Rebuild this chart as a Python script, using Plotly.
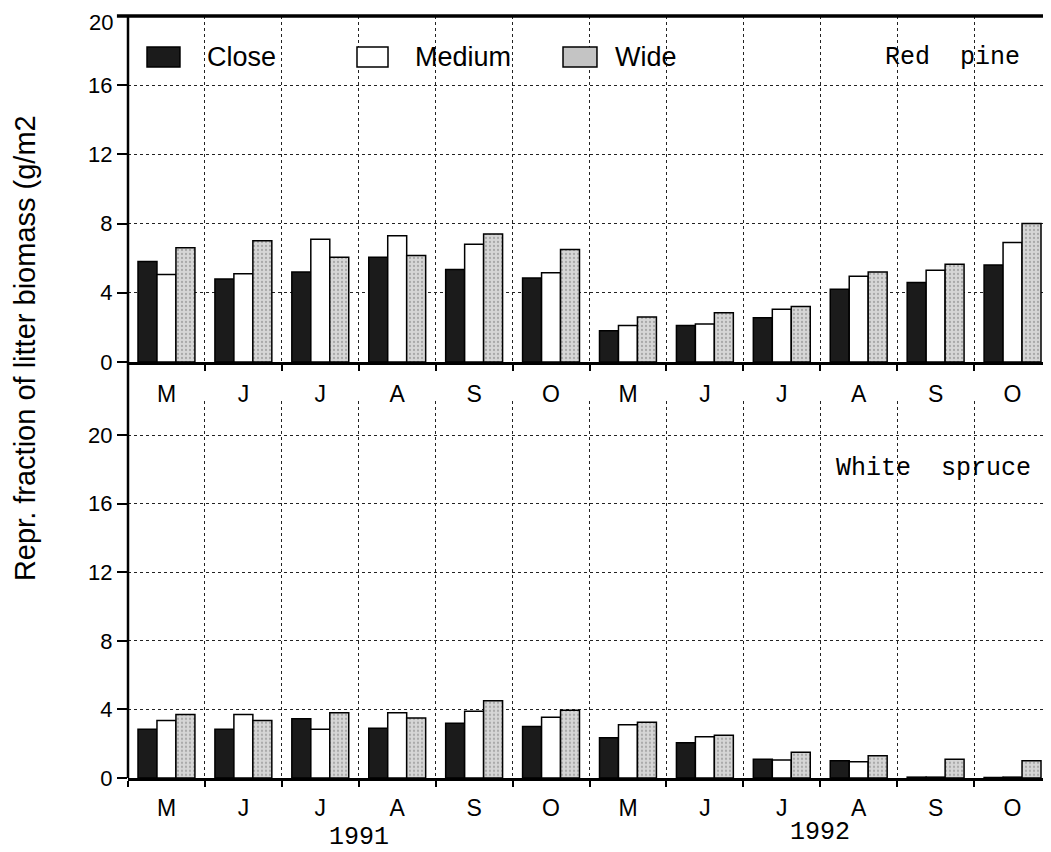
import plotly.graph_objects as go

months = ["M", "J", "J", "A", "S", "O", "M", "J", "J", "A", "S", "O"]
years = ["1991", "1992"]
y_ticks = [0, 4, 8, 12, 16, 20]

# Red pine (top panel)
rp_close = [5.8, 4.8, 5.2, 6.05, 5.35, 4.85, 1.8, 2.1, 2.55, 4.2, 4.6, 5.6]
rp_medium = [5.05, 5.1, 7.1, 7.3, 6.8, 5.15, 2.1, 2.2, 3.05, 4.95, 5.3, 6.9]
rp_wide = [6.6, 7.0, 6.05, 6.15, 7.4, 6.5, 2.6, 2.85, 3.2, 5.2, 5.65, 8.0]

# White spruce (bottom panel)
ws_close = [2.85, 2.85, 3.45, 2.9, 3.2, 3.0, 2.35, 2.05, 1.1, 1.0, 0.05, 0.03]
ws_medium = [3.35, 3.7, 2.85, 3.8, 3.9, 3.55, 3.1, 2.4, 1.05, 0.95, 0.05, 0.05]
ws_wide = [3.7, 3.35, 3.8, 3.5, 4.5, 3.95, 3.25, 2.5, 1.5, 1.3, 1.1, 1.0]

series_names = ["Close", "Medium", "Wide"]

SANS = "Liberation Sans, Arial, sans-serif"
MONO = "Courier New, Liberation Mono, monospace"

x = list(range(len(months)))

styles = {
    "Close": dict(color="#1b1b1b", line=dict(color="black", width=1.5)),
    "Medium": dict(color="white", line=dict(color="black", width=1.5)),
    "Wide": dict(color="#cfcfcf", line=dict(color="black", width=1.5),
                 pattern=dict(shape=".", fgcolor="#7a7a7a", bgcolor="#d6d6d6",
                              size=4, solidity=0.25)),
}

fig = go.Figure()
for name, vals in zip(series_names, [rp_close, rp_medium, rp_wide]):
    fig.add_trace(go.Bar(x=x, y=vals, name=name, marker=styles[name],
                         xaxis="x", yaxis="y", showlegend=False))
for name, vals in zip(series_names, [ws_close, ws_medium, ws_wide]):
    fig.add_trace(go.Bar(x=x, y=vals, name=name, marker=styles[name],
                         xaxis="x2", yaxis="y2", showlegend=False))

boundaries = [i - 0.5 for i in range(len(months) + 1)]

def xaxis_cfg(anchor, ticklen):
    return dict(
        anchor=anchor, domain=[0, 1], range=[-0.5, 11.5], automargin=False,
        tickmode="array", tickvals=x, ticktext=months,
        ticks="outside", ticklen=ticklen, tickcolor="rgba(0,0,0,0)",
        showgrid=False, zeroline=False,
        showline=True, linecolor="black", linewidth=2.5,
        tickfont=dict(family=SANS, size=23, color="black"),
        minor=dict(tickmode="array", tickvals=boundaries, ticks="outside",
                   ticklen=6, tickcolor="black", tickwidth=1.5,
                   showgrid=True, griddash="dot", gridcolor="#222222",
                   gridwidth=1),
    )

def yaxis_cfg(anchor, domain, rng, labels):
    return dict(
        anchor=anchor, domain=domain, range=rng, automargin=False,
        tickmode="array", tickvals=y_ticks, ticktext=labels,
        ticks="outside", ticklen=10, tickcolor="black", tickwidth=1.5,
        showgrid=True, griddash="dot", gridcolor="#222222", gridwidth=1,
        zeroline=False, showline=False,
        tickfont=dict(family=SANS, size=22, color="black"),
    )

all_labels = [str(v) for v in y_ticks]
# top label of the upper panel is drawn as an annotation so it stays inside the page
top_labels = all_labels[:-1] + [""]

# the page adds an 8px body margin, so the figure is 8px smaller
fig.update_layout(
    width=1043, height=844,
    margin=dict(l=120, r=0, t=8, b=74, autoexpand=False),
    paper_bgcolor="white", plot_bgcolor="white",
    barmode="group", bargap=0.26, bargroupgap=0,
    xaxis=xaxis_cfg("y", 10),
    yaxis=yaxis_cfg("x", [0.546, 1.0], [0, 20], top_labels),
    xaxis2=xaxis_cfg("y2", 8),
    yaxis2=yaxis_cfg("x2", [0.0, 0.495], [0, 22], all_labels),
)

shapes = [
    dict(type="line", xref="paper", yref="paper", x0=0, x1=0, y0=0, y1=1,
         line=dict(color="black", width=2.5)),
    dict(type="line", xref="paper", yref="paper", x0=-0.012, x1=1, y0=1, y1=1,
         line=dict(color="black", width=3.5)),
]

swatches = [
    ("Close", 0.0206, 0.0563, "#1b1b1b"),
    ("Medium", 0.2481, 0.2817, "white"),
    ("Wide", 0.4713, 0.5081, "#c4c4c4"),
]
text_x = [0.0834, 0.3088, 0.5255]
annotations = []
for (name, x0, x1, col), tx in zip(swatches, text_x):
    shapes.append(dict(type="rect", xref="paper", yref="paper",
                       x0=x0, x1=x1, y0=0.933, y1=0.9593,
                       fillcolor=col, line=dict(color="black", width=1.5)))
    annotations.append(dict(text=name, xref="paper", yref="paper",
                            x=tx, y=0.9462, xanchor="left", yanchor="middle",
                            showarrow=False,
                            font=dict(family=SANS, size=27, color="black")))

annotations += [
    dict(text=all_labels[-1], xref="paper", yref="y", x=-0.0152, y=y_ticks[-1],
         xanchor="right", yanchor="middle", yshift=-6, showarrow=False,
         borderpad=0, font=dict(family=SANS, size=22, color="black")),
    dict(text="Red  pine", xref="paper", yref="paper", x=0.9686, y=0.945,
         xanchor="right", yanchor="middle", showarrow=False,
         font=dict(family=MONO, size=25, color="black")),
    dict(text="White  spruce", xref="paper", yref="paper", x=0.9805, y=0.4068,
         xanchor="right", yanchor="middle", showarrow=False,
         font=dict(family=MONO, size=25, color="black")),
    dict(text=years[0], xref="x2", yref="paper", x=2.5, y=-0.0787,
         xanchor="center", yanchor="middle", showarrow=False,
         font=dict(family=MONO, size=25, color="black")),
    dict(text=years[1], xref="x2", yref="paper", x=8.5, y=-0.0709,
         xanchor="center", yanchor="middle", showarrow=False,
         font=dict(family=MONO, size=25, color="black")),
    dict(text="Repr. fraction of litter biomass (g/m2", xref="paper",
         yref="paper", x=-0.1115, y=0.5643, xanchor="center",
         yanchor="middle", textangle=-90, showarrow=False,
         font=dict(family=SANS, size=29, color="black")),
]

fig.update_layout(shapes=shapes, annotations=annotations)

fig.write_html("out.html")
